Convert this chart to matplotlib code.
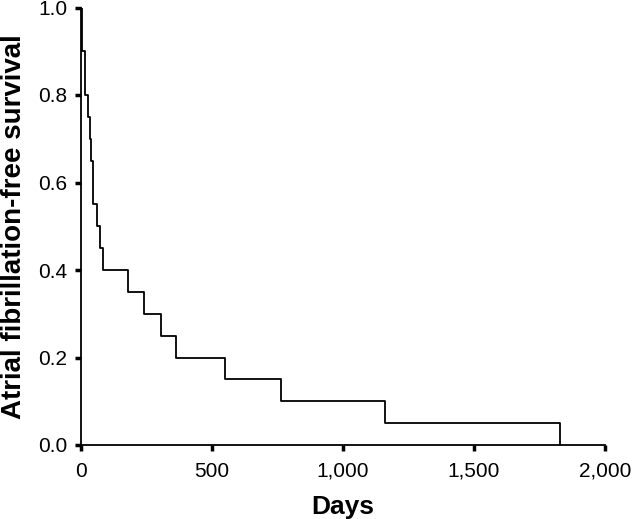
import matplotlib
matplotlib.use("Agg")
import matplotlib.pyplot as plt
from matplotlib.ticker import FuncFormatter

plt.rcParams['font.family'] = ['Liberation Sans', 'DejaVu Sans']

event_days = [0, 3, 5, 17, 25, 35, 40, 46, 61, 71, 84, 181, 239, 305, 362, 549, 764, 1160, 1830]
survival = [1.0, 0.95, 0.9, 0.8, 0.75, 0.7, 0.65, 0.55, 0.5, 0.45, 0.4, 0.35, 0.3, 0.25, 0.2, 0.15, 0.1, 0.05, 0.0]
x_ticks = [0, 500, 1000, 1500, 2000]
y_ticks = [0.0, 0.2, 0.4, 0.6, 0.8, 1.0]

fig = plt.figure(figsize=(6.32, 5.19), dpi=100)
ax = fig.add_axes([81 / 632, 74 / 519, 524 / 632, 437.5 / 519])
ax.plot(event_days, survival, drawstyle='steps-post', color='black', lw=1.3)

ax.set_xlim(0, 2000)
ax.set_ylim(0, 1.0)
ax.set_xticks(x_ticks)
ax.set_yticks(y_ticks)
ax.xaxis.set_major_formatter(FuncFormatter(lambda v, p: f"{int(v):,}"))
ax.yaxis.set_major_formatter(FuncFormatter(lambda v, p: f"{v:.1f}"))
for s in ['top', 'right']:
    ax.spines[s].set_visible(False)
for s in ['left', 'bottom']:
    ax.spines[s].set_linewidth(1.3)
ax.tick_params(direction='out', length=4, width=2.5, labelsize=15)
ax.tick_params(axis='x', pad=8)
ax.tick_params(axis='y', pad=6)
ax.set_xlabel('Days', fontsize=19, fontweight='bold', labelpad=10)
ax.set_ylabel('Atrial fibrillation-free survival', fontsize=20, fontweight='bold', labelpad=8)
fig.savefig('out.png', dpi=100)
